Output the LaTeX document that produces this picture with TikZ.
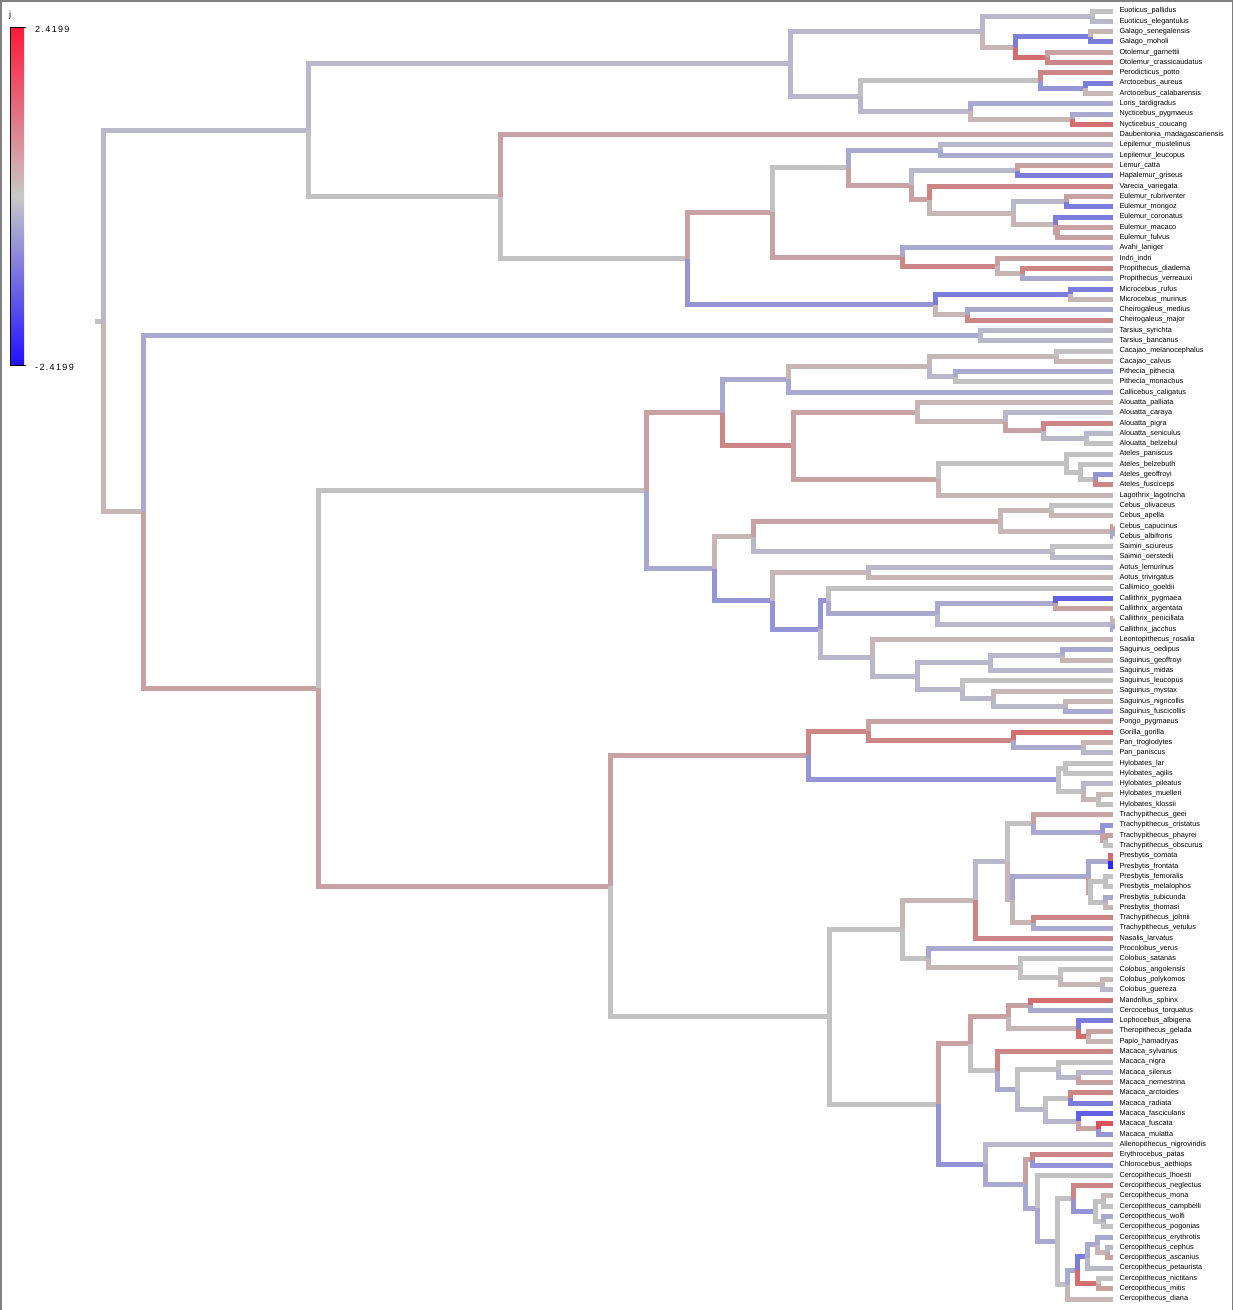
\documentclass[tikz,border=0pt]{standalone}
\usepackage{fontspec}
\setmainfont{Liberation Sans}
\newfontfamily\barfont[LetterSpace=15]{Liberation Sans}
\usetikzlibrary{calc}

% branch colours: grey, grey to red, grey to blue
\definecolor{gy}{HTML}{C2C2C2}
\definecolor{rd1}{HTML}{C6B6B6}
\definecolor{rd2}{HTML}{C8A2A2}
\definecolor{rd3}{HTML}{CC8686}
\definecolor{rd4}{HTML}{D46E6E}
\definecolor{rd5}{HTML}{E0505A}
\definecolor{bl1}{HTML}{B8B8CA}
\definecolor{bl2}{HTML}{A8A8D0}
\definecolor{bl3}{HTML}{9494D6}
\definecolor{bl4}{HTML}{7C7CDC}
\definecolor{bl5}{HTML}{6060E4}
\definecolor{bl6}{HTML}{2828FF}
\definecolor{barhi}{HTML}{FF1838}
\definecolor{barmid}{HTML}{C8C8C8}
\definecolor{barlo}{HTML}{2010FF}

\tikzset{
  branch/.style={line width=5pt},
  tiplab/.style={anchor=west, inner xsep=6.5pt, inner ysep=0pt, outer sep=0pt,
    text height=5.3pt, text depth=1.6pt, font=\fontsize{7.3}{8}\selectfont},
  barlab/.style={anchor=west, inner sep=0pt, font=\barfont\fontsize{9}{10}\selectfont},
}
% clade: name, x, first child, last child (y is midway between the children)
\newcommand\clade[4]{\path let \p1=(#3), \p2=(#4) in coordinate (#1) at (#2pt,{0.5*(\y1)+0.5*(\y2)});}

\begin{document}
\begin{tikzpicture}[x=1pt, y=-1pt]
    \useasboundingbox (0,0) rectangle (1234,1310);
    \draw[gray, line width=1.5pt] (0.75,1310) -- (0.75,0.75) -- (1232.5,0.75) -- (1232.5,1310);

    % Colour bar
    \shade[top color=barhi, bottom color=barmid] (10,27) rectangle (24,196);
    \shade[top color=barmid, bottom color=barlo] (10,196) rectangle (24,365);
    \draw[black, line width=0.7pt] (26,27) -- (10,27) -- (10,365) -- (26,365);
    \node[barlab] (jlab) at (9,15) {j};
    \node[barlab] (vmax) at (35,29) {2.4199};
    \node[barlab] (vmin) at (35,367) {-2.4199};

    % Tips
    \foreach \tname [count=\i] in {Euoticus\_pallidus, Euoticus\_elegantulus, Galago\_senegalensis, Galago\_moholi, Otolemur\_garnettii, Otolemur\_crassicaudatus, Perodicticus\_potto, Arctocebus\_aureus, Arctocebus\_calabarensis, Loris\_tardigradus, Nycticebus\_pygmaeus, Nycticebus\_coucang, Daubentonia\_madagascariensis, Lepilemur\_mustelinus, Lepilemur\_leucopus, Lemur\_catta, Hapalemur\_griseus, Varecia\_variegata, Eulemur\_rubriventer, Eulemur\_mongoz, Eulemur\_coronatus, Eulemur\_macaco, Eulemur\_fulvus, Avahi\_laniger, Indri\_indri, Propithecus\_diadema, Propithecus\_verreauxi, Microcebus\_rufus, Microcebus\_murinus, Cheirogaleus\_medius, Cheirogaleus\_major, Tarsius\_syrichta, Tarsius\_bancanus, Cacajao\_melanocephalus, Cacajao\_calvus, Pithecia\_pithecia, Pithecia\_monachus, Callicebus\_caligatus, Alouatta\_palliata, Alouatta\_caraya, Alouatta\_pigra, Alouatta\_seniculus, Alouatta\_belzebul, Ateles\_paniscus, Ateles\_belzebuth, Ateles\_geoffroyi, Ateles\_fusciceps, Lagothrix\_lagotricha, Cebus\_olivaceus, Cebus\_apella, Cebus\_capucinus, Cebus\_albifrons, Saimiri\_sciureus, Saimiri\_oerstedii, Aotus\_lemurinus, Aotus\_trivirgatus, Callimico\_goeldii, Callithrix\_pygmaea, Callithrix\_argentata, Callithrix\_penicillata, Callithrix\_jacchus, Leontopithecus\_rosalia, Saguinus\_oedipus, Saguinus\_geoffroyi, Saguinus\_midas, Saguinus\_leucopus, Saguinus\_mystax, Saguinus\_nigricollis, Saguinus\_fuscicollis, Pongo\_pygmaeus, Gorilla\_gorilla, Pan\_troglodytes, Pan\_paniscus, Hylobates\_lar, Hylobates\_agilis, Hylobates\_pileatus, Hylobates\_muelleri, Hylobates\_klossii, Trachypithecus\_geei, Trachypithecus\_cristatus, Trachypithecus\_phayrei, Trachypithecus\_obscurus, Presbytis\_comata, Presbytis\_frontata, Presbytis\_femoralis, Presbytis\_melalophos, Presbytis\_rubicunda, Presbytis\_thomasi, Trachypithecus\_johnii, Trachypithecus\_vetulus, Nasalis\_larvatus, Procolobus\_verus, Colobus\_satanas, Colobus\_angolensis, Colobus\_polykomos, Colobus\_guereza, Mandrillus\_sphinx, Cercocebus\_torquatus, Lophocebus\_albigena, Theropithecus\_gelada, Papio\_hamadryas, Macaca\_sylvanus, Macaca\_nigra, Macaca\_silenus, Macaca\_nemestrina, Macaca\_arctoides, Macaca\_radiata, Macaca\_fascicularis, Macaca\_fuscata, Macaca\_mulatta, Allenopithecus\_nigroviridis, Erythrocebus\_patas, Chlorocebus\_aethiops, Cercopithecus\_lhoesti, Cercopithecus\_neglectus, Cercopithecus\_mona, Cercopithecus\_campbelli, Cercopithecus\_wolfi, Cercopithecus\_pogonias, Cercopithecus\_erythrotis, Cercopithecus\_cephus, Cercopithecus\_ascanius, Cercopithecus\_petaurista, Cercopithecus\_nictitans, Cercopithecus\_mitis, Cercopithecus\_diana}
        \node[tiplab] (t\i) at (1113,{11+(\i-1)*10.304}) {\tname};

    % Strepsirrhini
    \clade{euot}{1092}{t1}{t2}
    \clade{gala}{1090}{t3}{t4}
    \clade{otol}{1047}{t5}{t6}
    \clade{galoto}{1015}{gala}{otol}
    \clade{galagid}{982}{euot}{galoto}
    \clade{arct}{1085}{t8}{t9}
    \clade{perarc}{1040}{t7}{arct}
    \clade{nyct}{1072}{t11}{t12}
    \clade{lornyc}{970}{t10}{nyct}
    \clade{lorisid}{860}{perarc}{lornyc}
    \clade{lorisif}{790}{galagid}{lorisid}
    \clade{lepil}{940}{t14}{t15}
    \clade{lemhap}{1017}{t16}{t17}
    \clade{rubmon}{1066}{t19}{t20}
    \clade{macful}{1057}{t22}{t23}
    \clade{cormf}{1055}{t21}{macful}
    \clade{eulem}{1013}{rubmon}{cormf}
    \clade{vareul}{929}{t18}{eulem}
    \clade{lemurid}{911}{lemhap}{vareul}
    \clade{leplem}{848}{lepil}{lemurid}
    \clade{prop}{1022}{t26}{t27}
    \clade{indprop}{997}{t25}{prop}
    \clade{indriid}{902}{t24}{indprop}
    \clade{lemind}{772}{leplem}{indriid}
    \clade{micro}{1070}{t28}{t29}
    \clade{cheir}{967}{t30}{t31}
    \clade{cheirid}{935}{micro}{cheir}
    \clade{lemuroid}{687}{lemind}{cheirid}
    \clade{lemurif}{500}{t13}{lemuroid}
    \clade{streps}{308}{lorisif}{lemurif}

    % Tarsius and Platyrrhini
    \clade{tars}{980}{t32}{t33}
    \clade{cacaj}{1056}{t34}{t35}
    \clade{pith}{955}{t36}{t37}
    \clade{cacpit}{929}{cacaj}{pith}
    \clade{pithec}{788}{cacpit}{t38}
    \clade{senbel}{1086}{t42}{t43}
    \clade{pigsb}{1043}{t41}{senbel}
    \clade{carpsb}{1005}{t40}{pigsb}
    \clade{alou}{917}{t39}{carpsb}
    \clade{ategf}{1095}{t46}{t47}
    \clade{atebgf}{1080}{t45}{ategf}
    \clade{ateles}{1066}{t44}{atebgf}
    \clade{atelag}{938}{ateles}{t48}
    \clade{atelid}{793}{alou}{atelag}
    \clade{pitate}{722}{pithec}{atelid}
    \clade{cebolap}{1051}{t49}{t50}
    \clade{cebcapalb}{1112}{t51}{t52}
    \clade{cebus}{1000}{cebolap}{cebcapalb}
    \clade{saim}{1052}{t53}{t54}
    \clade{cebsaim}{753}{cebus}{saim}
    \clade{aotus}{868}{t55}{t56}
    \clade{callpa}{1055}{t58}{t59}
    \clade{callpj}{1112}{t60}{t61}
    \clade{callith}{937}{callpa}{callpj}
    \clade{calgoe}{828}{t57}{callith}
    \clade{saogeo}{1062}{t63}{t64}
    \clade{saogm}{990}{saogeo}{t65}
    \clade{sanf}{1065}{t68}{t69}
    \clade{samnf}{993}{t67}{sanf}
    \clade{salmnf}{962}{t66}{samnf}
    \clade{saguin}{917}{saogm}{salmnf}
    \clade{leosag}{872}{t62}{saguin}
    \clade{callitr}{820}{calgoe}{leosag}
    \clade{aotcal}{772}{aotus}{callitr}
    \clade{cebid}{714}{cebsaim}{aotcal}
    \clade{platyr}{646}{pitate}{cebid}

    % Catarrhini
    \clade{pan}{1083}{t72}{t73}
    \clade{homin}{1013}{t71}{pan}
    \clade{hominid}{868}{t70}{homin}
    \clade{hyla}{1065}{t74}{t75}
    \clade{hymk}{1098}{t77}{t78}
    \clade{hypmk}{1083}{t76}{hymk}
    \clade{hylob}{1058}{hyla}{hypmk}
    \clade{hominoid}{808}{hominid}{hylob}
    \clade{trpo}{1105}{t81}{t82}
    \clade{trcpo}{1102}{t80}{trpo}
    \clade{trgeei}{1033}{t79}{trcpo}
    \clade{prcf}{1110}{t83}{t84}
    \clade{prfm}{1105}{t85}{t86}
    \clade{prrt}{1105}{t87}{t88}
    \clade{prfmrt}{1090}{prfm}{prrt}
    \clade{presb}{1088}{prcf}{prfmrt}
    \clade{trjv}{1033}{t89}{t90}
    \clade{prtrj}{1012}{presb}{trjv}
    \clade{trpr}{1007}{trgeei}{prtrj}
    \clade{asianc}{975}{trpr}{t91}
    \clade{colpg}{1102}{t95}{t96}
    \clade{colapg}{1060}{t94}{colpg}
    \clade{colob}{1020}{t93}{colapg}
    \clade{african}{928}{t92}{colob}
    \clade{colobin}{902}{asianc}{african}
    \clade{mancer}{1030}{t97}{t98}
    \clade{thpa}{1088}{t100}{t101}
    \clade{lothpa}{1078}{t99}{thpa}
    \clade{mclotp}{1008}{mancer}{lothpa}
    \clade{masn}{1078}{t104}{t105}
    \clade{mansn}{1058}{t103}{masn}
    \clade{mar}{1070}{t106}{t107}
    \clade{mfm}{1098}{t109}{t110}
    \clade{mffm}{1078}{t108}{mfm}
    \clade{marfm}{1045}{mar}{mffm}
    \clade{macrest}{1017}{mansn}{marfm}
    \clade{macaca}{997}{t102}{macrest}
    \clade{papion}{970}{mclotp}{macaca}
    \clade{erychl}{1032}{t112}{t113}
    \clade{cemc}{1103}{t116}{t117}
    \clade{cewp}{1103}{t118}{t119}
    \clade{cemcwp}{1095}{cemc}{cewp}
    \clade{cenmw}{1073}{t115}{cemcwp}
    \clade{ceca}{1107}{t121}{t122}
    \clade{ceeca}{1097}{t120}{ceca}
    \clade{ceecap}{1087}{ceeca}{t123}
    \clade{cenm}{1098}{t124}{t125}
    \clade{cepetnm}{1077}{ceecap}{cenm}
    \clade{cediana}{1067}{cepetnm}{t126}
    \clade{cegrp}{1057}{cenmw}{cediana}
    \clade{cercop}{1037}{t114}{cegrp}
    \clade{ecce}{1025}{erychl}{cercop}
    \clade{cercini}{985}{t111}{ecce}
    \clade{cercinae}{938}{papion}{cercini}
    \clade{cercid}{829}{colobin}{cercinae}
    \clade{catarr}{610}{hominoid}{cercid}
    \clade{anthro}{318}{platyr}{catarr}
    \clade{haplo}{143}{tars}{anthro}
    \clade{root}{103}{streps}{haplo}

    % Branches
    \path (root) ++(-8,0) coordinate (stem);
    \draw[branch, gy] (stem) -- (root);
    \foreach \pa/\ch/\cl in {root/streps/bl1, root/haplo/rd1,
        streps/lorisif/bl1, streps/lemurif/gy, lorisif/galagid/bl1, lorisif/lorisid/bl1,
        galagid/euot/bl1, euot/t1/gy, euot/t2/bl1, galagid/galoto/rd1, galoto/gala/bl4,
        gala/t3/rd1, gala/t4/bl4, galoto/otol/rd4, otol/t5/rd2, otol/t6/rd3,
        lorisid/perarc/gy, perarc/t7/rd3, perarc/arct/bl3, arct/t8/bl4, arct/t9/rd1,
        lorisid/lornyc/bl1, lornyc/t10/bl2, lornyc/nyct/rd1, nyct/t11/bl2, nyct/t12/rd4,
        lemurif/t13/rd2, lemurif/lemuroid/gy, lemuroid/lemind/rd2, lemuroid/cheirid/bl3,
        lemind/leplem/gy, lemind/indriid/rd2, leplem/lepil/bl2, lepil/t14/bl1, lepil/t15/bl2,
        leplem/lemurid/rd2, lemurid/lemhap/bl1, lemhap/t16/rd2, lemhap/t17/bl4,
        lemurid/vareul/rd2, vareul/t18/rd3, vareul/eulem/rd1, eulem/rubmon/bl1,
        rubmon/t19/rd2, rubmon/t20/bl4, eulem/cormf/rd1, cormf/t21/bl4, cormf/macful/rd2,
        macful/t22/rd2, macful/t23/rd2, indriid/t24/bl2, indriid/indprop/rd3,
        indprop/t25/rd2, indprop/prop/rd1, prop/t26/rd3, prop/t27/bl2,
        cheirid/micro/bl4, micro/t28/bl4, micro/t29/rd1, cheirid/cheir/rd1,
        cheir/t30/bl2, cheir/t31/rd3,
        haplo/tars/bl2, haplo/anthro/rd2, tars/t32/bl1, tars/t33/bl1,
        anthro/platyr/gy, anthro/catarr/rd2, platyr/pitate/rd2, platyr/cebid/bl2,
        pitate/pithec/bl2, pitate/atelid/rd3, pithec/cacpit/rd1, pithec/t38/bl2,
        cacpit/cacaj/rd1, cacaj/t34/gy, cacaj/t35/rd1, cacpit/pith/bl1, pith/t36/bl2, pith/t37/gy,
        atelid/alou/rd2, atelid/atelag/rd2, alou/t39/rd1, alou/carpsb/rd1, carpsb/t40/bl1,
        carpsb/pigsb/rd2, pigsb/t41/rd3, pigsb/senbel/bl1, senbel/t42/bl1, senbel/t43/gy,
        atelag/ateles/gy, atelag/t48/rd1, ateles/t44/gy, ateles/atebgf/gy, atebgf/t45/gy,
        atebgf/ategf/gy, ategf/t46/bl3, ategf/t47/rd3,
        cebid/cebsaim/rd1, cebid/aotcal/bl3, cebsaim/cebus/rd2, cebsaim/saim/bl1,
        cebus/cebolap/rd1, cebolap/t49/gy, cebolap/t50/rd1, cebus/cebcapalb/rd1,
        cebcapalb/t51/rd2, cebcapalb/t52/bl2, saim/t53/gy, saim/t54/bl1,
        aotcal/aotus/rd1, aotcal/callitr/bl3, aotus/t55/bl1, aotus/t56/rd1,
        callitr/calgoe/bl3, callitr/leosag/bl1, calgoe/t57/gy, calgoe/callith/bl2,
        callith/callpa/bl2, callith/callpj/bl1, callpa/t58/bl5, callpa/t59/rd2,
        callpj/t60/rd1, callpj/t61/bl2, leosag/t62/rd1, leosag/saguin/bl1,
        saguin/saogm/bl1, saguin/salmnf/bl1, saogm/saogeo/bl1, saogm/t65/bl1,
        saogeo/t63/bl2, saogeo/t64/rd1, salmnf/t66/gy, salmnf/samnf/bl1,
        samnf/t67/rd1, samnf/sanf/bl1, sanf/t68/rd1, sanf/t69/bl2,
        catarr/hominoid/rd2, catarr/cercid/gy, hominoid/hominid/rd3, hominoid/hylob/bl3,
        hominid/t70/rd2, hominid/homin/rd3, homin/t71/rd4, homin/pan/bl2,
        pan/t72/rd1, pan/t73/bl1, hylob/hyla/gy, hylob/hypmk/gy, hyla/t74/gy, hyla/t75/gy,
        hypmk/t76/bl1, hypmk/hymk/rd1, hymk/t77/rd1, hymk/t78/gy,
        cercid/colobin/gy, cercid/cercinae/gy, colobin/asianc/rd1, colobin/african/gy,
        asianc/trpr/bl1, asianc/t91/rd3, trpr/trgeei/gy, trpr/prtrj/rd1,
        trgeei/t79/rd2, trgeei/trcpo/bl2, trcpo/t80/bl3, trcpo/trpo/rd2,
        trpo/t81/rd2, trpo/t82/gy, prtrj/presb/bl2, prtrj/trjv/rd1,
        presb/prcf/bl2, presb/prfmrt/rd2, prcf/t83/rd4, prcf/t84/bl6,
        prfmrt/prfm/gy, prfmrt/prrt/gy, prfm/t85/gy, prfm/t86/gy, prrt/t87/bl2, prrt/t88/rd1,
        trjv/t89/rd3, trjv/t90/bl2, african/t92/bl2, african/colob/rd1,
        colob/t93/gy, colob/colapg/gy, colapg/t94/gy, colapg/colpg/rd1,
        colpg/t95/rd1, colpg/t96/bl1,
        cercinae/papion/rd2, cercinae/cercini/bl3, papion/mclotp/rd2, papion/macaca/gy,
        mclotp/mancer/rd2, mclotp/lothpa/rd1, mancer/t97/rd4, mancer/t98/bl2,
        lothpa/t99/bl4, lothpa/thpa/rd4, thpa/t100/rd2, thpa/t101/rd1,
        macaca/t102/rd3, macaca/macrest/bl2, macrest/mansn/gy, macrest/marfm/bl1,
        mansn/t103/gy, mansn/masn/bl1, masn/t104/bl1, masn/t105/rd2,
        marfm/mar/gy, marfm/mffm/bl1, mar/t106/rd3, mar/t107/bl4,
        mffm/t108/bl5, mffm/mfm/rd2, mfm/t109/rd5, mfm/t110/bl3,
        cercini/t111/bl1, cercini/ecce/bl2, ecce/erychl/rd2, ecce/cercop/bl2,
        erychl/t112/rd3, erychl/t113/bl3, cercop/t114/gy, cercop/cegrp/bl2,
        cegrp/cenmw/gy, cegrp/cediana/gy, cenmw/t115/rd3, cenmw/cemcwp/bl3,
        cemcwp/cemc/gy, cemcwp/cewp/gy, cemc/t116/rd1, cemc/t117/gy,
        cewp/t118/bl2, cewp/t119/gy, cediana/cepetnm/bl2, cediana/t126/rd1,
        cepetnm/ceecap/bl4, cepetnm/cenm/rd4, ceecap/ceeca/bl2, ceecap/t123/bl1,
        ceeca/t120/bl2, ceeca/ceca/rd1, ceca/t121/bl1, ceca/t122/rd2,
        cenm/t124/gy, cenm/t125/rd2}
        \draw[branch, \cl] (\pa) |- (\ch);
\end{tikzpicture}
\end{document}
